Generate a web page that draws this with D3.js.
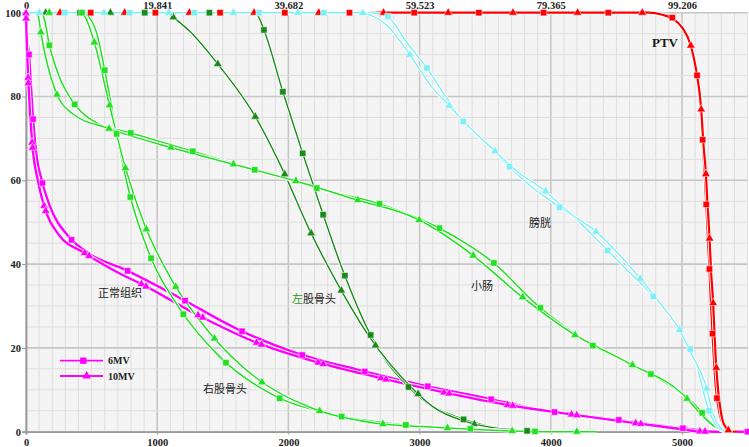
<!DOCTYPE html>
<html><head><meta charset="utf-8">
<script src="https://cdn.jsdelivr.net/npm/d3@7"></script>
<style>html,body{margin:0;padding:0;background:#fff;} svg{display:block}</style>
</head><body>
<svg id="c" width="749" height="447"></svg>
<script>
// ---------- data ----------
const xTicks = [0, 1000, 2000, 3000, 4000, 5000];
const xTickLabels = ["0", "1000", "2000", "3000", "4000", "5000"];
const topTickLabels = ["0", "19.841", "39.682", "59.523", "79.365", "99.206"];
const yTicks = [0, 20, 40, 60, 80, 100];
const yTickLabels = ["0", "20", "40", "60", "80", "100"];
const legendNames = ["6MV", "10MV"];
const organLabels = ["PTV", "膀胱", "小肠", "左股骨头", "正常组织", "右股骨头"];

// [dose (cGy), volume (%)]
const ptv6 = [[0,100],[4750,100],[4850,99.6],[4916,99],[4990,97],[5050,93.5],[5100,88],[5130,81],[5155,70.8],[5175,60],[5192,50],[5206,41],[5220,31],[5235,22],[5257,10.9],[5285,4.5],[5320,1.5],[5370,0.2],[5400,0]];
const ptv10 = [[0,100],[4750,100],[4850,99.5],[4930,98.6],[5000,96.5],[5066,92.3],[5110,86],[5145,77.5],[5165,68],[5180,62.6],[5195,54],[5208,47.5],[5222,38],[5234,32.6],[5246,25],[5257,17.5],[5275,10],[5295,5],[5310,2.6],[5340,0.8],[5380,0],[5420,0]];

const normal6 = [[0,100],[5,96],[23,90],[53,75],[80,66],[120,60],[180,54],[328,46.5],[480,42.5],[747,38.8],[1181,31.8],[1611,24.5],[2068,18.7],[2541,14.7],[3023,11.1],[3506,8.0],[3986,4.9],[4472,3.0],[4959,1.0],[5200,0.2],[5300,0],[5500,0]];
const normal10 = [[0,100],[3,96],[18,83.5],[48,68.5],[90,60],[137,54],[250,47],[444,42.7],[700,38],[907,34.8],[1306,27.9],[1753,21.3],[2215,16.6],[2688,12.9],[3168,9.5],[3651,6.5],[4141,4.2],[4629,2.1],[5000,0.6],[5119,0.1],[5250,0],[5500,0]];

const bowel6 = [[0,100],[110,100],[135,99],[178,92.3],[250,85],[361,78.6],[550,73.5],[788,71.4],[1263,67.0],[1733,62.6],[2000,60.3],[2208,58.2],[2683,54.5],[3138,48.8],[3400,44],[3549,40.7],[3897,30.2],[4291,21.1],[4726,14.4],[5000,9],[5124,5.6],[5220,2],[5300,0.3],[5350,0]];
const bowel10 = [[0,100],[75,100],[95,99],[112,95.5],[160,88],[229,81],[350,76],[627,72.4],[1098,67.9],[1573,63.9],[2048,59.9],[2515,55.4],[2985,50.7],[3394,42.4],[3765,32.6],[4159,23.6],[4586,16.5],[5010,8.8],[5150,4],[5250,1.2],[5330,0.2],[5386,0]];

const rFemur6 = [[0,100],[440,100],[480,99],[540,95],[600,86.3],[688,71.5],[788,56.9],[938,42.6],[1166,29.6],[1479,17.8],[1875,8.9],[2338,4.1],[2833,1.8],[3321,0.8],[3757,0.2],[4000,0],[4350,0]];
const rFemur10 = [[0,100],[410,100],[450,99],[521,92.9],[633,78.4],[750,63.8],[902,49.5],[1115,36.0],[1397,23.7],[1748,13.0],[2172,5.7],[2652,2.1],[3143,1.0],[3638,0.25],[3900,0],[4300,0]];

const lFemur6 = [[0,100],[1700,100],[1760,99.5],[1817,95.6],[1956,81.3],[2101,67.2],[2256,52.6],[2416,38.4],[2604,24.5],[2740,17],[2878,11.9],[3050,7],[3277,3.6],[3500,1.5],[3757,0.4],[3900,0]];
const lFemur10 = [[0,100],[1080,100],[1123,98.9],[1250,95.5],[1458,87.9],[1740,75.6],[1961,62.2],[2157,48.4],[2380,35.0],[2630,22.1],[2940,10.5],[3100,6],[3351,2.4],[3600,0.8],[3829,0.24],[3900,0]];

const bladder6 = [[0,100],[2600,100],[2700,99.7],[2762,99],[2900,93],[3049,87.1],[3200,80],[3316,74.7],[3500,69],[3664,63.9],[3850,58.5],[4034,54.3],[4200,50.5],[4403,44.2],[4600,38],[4748,33.4],[4900,28],[5040,21.3],[5120,15],[5183,7.2],[5240,2.5],[5290,0.5],[5320,0]];
const bladder10 = [[0,100],[2540,100],[2620,99.5],[2750,97],[2927,89.9],[3100,82],[3227,77.8],[3400,72],[3570,67.1],[3750,62],[3956,57.5],[4150,52],[4332,48.1],[4500,43],[4670,37.0],[4850,30],[4964,25.2],[5080,18],[5175,11.7],[5240,4],[5290,1],[5330,0]];

// ---------- styles ----------
const C = {red:"#ff0000", mag:"#ff00ff", lg:"#22e022", dg:"#1a8a1a", cy:"#80eef6"};
const series = [
  {d: normal6, c: C.mag, w: 2.4, m: "sq", off: [42]},
  {d: normal10, c: C.mag, w: 2.4, m: "tri", off: [0.5, 5.8]},
  {d: ptv6, c: C.red, w: 2.2, m: "sq", off: [64.7]},
  {d: ptv10, c: C.red, w: 2.2, m: "tri", off: [34]},
  {d: lFemur6, c: C.dg, w: 1.4, m: "sq", off: [54]},
  {d: lFemur10, c: C.dg, w: 1.4, m: "tri", off: [19.7]},
  {d: rFemur6, c: C.lg, w: 1.5, m: "sq", off: [56]},
  {d: rFemur10, c: C.lg, w: 1.5, m: "tri", off: [23.3]},
  {d: bowel6, c: C.lg, w: 1.5, m: "sq", off: [49]},
  {d: bowel10, c: C.lg, w: 1.5, m: "tri", off: [30.5]},
  {d: bladder6, c: C.cy, w: 1.4, m: "sq", off: [39]},
  {d: bladder10, c: C.cy, w: 1.4, m: "tri", off: [13.3]}
];
const SPACING = 64.7;

const L = 26, R = 747.6, T = 12.7, B = 431.7;
const x = d3.scaleLinear().domain([0, 5500]).range([L, R]);
const y = d3.scaleLinear().domain([0, 100]).range([B, T]);

const svg = d3.select("#c");
const SERIF = "'Liberation Serif','DejaVu Serif',serif";
const CJK = "'Noto Sans CJK SC','Noto Sans CJK JP',sans-serif";

// plot background
svg.append("rect").attr("x", L).attr("y", T).attr("width", R - L).attr("height", B - T).attr("fill", "#f4f4f4");

// grid
const g = svg.append("g");
g.selectAll(".vx").data(d3.range(0, 5501, 100)).join("line")
  .attr("x1", d => x(d)).attr("x2", d => x(d)).attr("y1", T).attr("y2", B)
  .attr("stroke", d => d % 1000 === 0 ? "#c6c6c6" : "#dedede")
  .attr("stroke-width", d => d % 1000 === 0 ? 1.6 : 1);
g.selectAll(".hy").data(d3.range(0, 101, 5)).join("line")
  .attr("x1", L).attr("x2", R).attr("y1", d => y(d)).attr("y2", d => y(d))
  .attr("stroke", d => d % 20 === 0 ? "#c6c6c6" : "#dedede")
  .attr("stroke-width", d => d % 20 === 0 ? 1.6 : 1);

// axes
const xAxis = d3.axisBottom(x).tickValues(xTicks).tickFormat((d, i) => xTickLabels[i]).tickSize(3);
const ax = svg.append("g").attr("transform", `translate(0,${B})`).call(xAxis);
const topAxis = d3.axisTop(x).tickValues(xTicks).tickFormat((d, i) => topTickLabels[i]).tickSize(0);
const at = svg.append("g").attr("transform", `translate(0,${T})`).call(topAxis);
const yAxis = d3.axisLeft(y).tickValues(yTicks).tickFormat((d, i) => yTickLabels[i]).tickSize(4);
const ay = svg.append("g").attr("transform", `translate(${L},0)`).call(yAxis);
[ax, at, ay].forEach(a => {
  a.select(".domain").attr("stroke", "#9a9a9a").attr("stroke-width", 1.8);
  a.selectAll(".tick line").attr("stroke", "#9a9a9a");
  a.selectAll("text").attr("font-family", SERIF).attr("font-size", 10.5).attr("font-weight", "bold").attr("fill", "#222");
});
at.select(".domain").remove();
ax.selectAll("text").attr("y", 14.3).attr("dy", 0);
at.selectAll("text").attr("y", -3.5).attr("dy", 0);
ay.selectAll("text").attr("x", -5);

// curves
const line = d3.line().x(d => x(d[0])).y(d => y(d[1])).curve(d3.curveMonotoneX);
const sym = {sq: d3.symbol().type(d3.symbolSquare).size(40), tri: d3.symbol().type(d3.symbolTriangle).size(32)};
const cg = svg.append("g");
series.forEach(s => {
  cg.append("path").attr("d", line(s.d)).attr("fill", "none").attr("stroke", "#fff").attr("stroke-width", s.w + 1.8).attr("stroke-linejoin", "round");
  const p = cg.append("path").attr("d", line(s.d)).attr("fill", "none").attr("stroke", s.c).attr("stroke-width", s.w).attr("stroke-linejoin", "round");
  s.path = p.node();
});
series.forEach(s => {
  const len = s.path.getTotalLength();
  const pts = [];
  s.off.forEach(o => { for (let d = o; d <= len; d += SPACING) pts.push(s.path.getPointAtLength(d)); });
  cg.selectAll(null).data(pts).join("path")
    .attr("d", sym[s.m]).attr("transform", p => `translate(${p.x},${p.y})`)
    .attr("fill", s.c).attr("stroke", "#fff").attr("stroke-width", 0.5);
});

// organ labels
function lab(txt, xx, yy, font, size, weight) {
  return svg.append("text").attr("x", xx).attr("y", yy).attr("font-family", font).attr("font-size", size)
    .attr("font-weight", weight || "normal").attr("fill", "#1a1a1a").text(txt);
}
lab(organLabels[0], 652, 46.5, SERIF, 13, "bold");
lab(organLabels[1], 529, 227, CJK, 11);
lab(organLabels[2], 471, 290, CJK, 11);
const lf = svg.append("text").attr("x", 292).attr("y", 303).attr("font-family", CJK).attr("font-size", 11).attr("fill", "#1a1a1a");
lf.append("tspan").attr("fill", "#2a9a2a").text(organLabels[3].slice(0, 1));
lf.append("tspan").text(organLabels[3].slice(1));
lab(organLabels[4], 98, 297, CJK, 11);
lab(organLabels[5], 203, 393, CJK, 11);

// legend
const lg = svg.append("g");
[[360.7, "sq", 83.3], [376, "tri", 86.7]].forEach((r, i) => {
  lg.append("line").attr("x1", 60).attr("x2", 103).attr("y1", r[0]).attr("y2", r[0]).attr("stroke", "#fff").attr("stroke-width", 3.6);
  lg.append("line").attr("x1", 60).attr("x2", 103).attr("y1", r[0]).attr("y2", r[0]).attr("stroke", C.mag).attr("stroke-width", 1.8);
  lg.append("path").attr("d", sym[r[1]]).attr("transform", `translate(${r[2]},${r[0]})`).attr("fill", C.mag);
  lg.append("text").attr("x", 108).attr("y", r[0] + 3.5).attr("font-family", SERIF).attr("font-size", 10).attr("font-weight", "bold").attr("fill", "#222").text(legendNames[i]);
});
</script>
</body></html>
